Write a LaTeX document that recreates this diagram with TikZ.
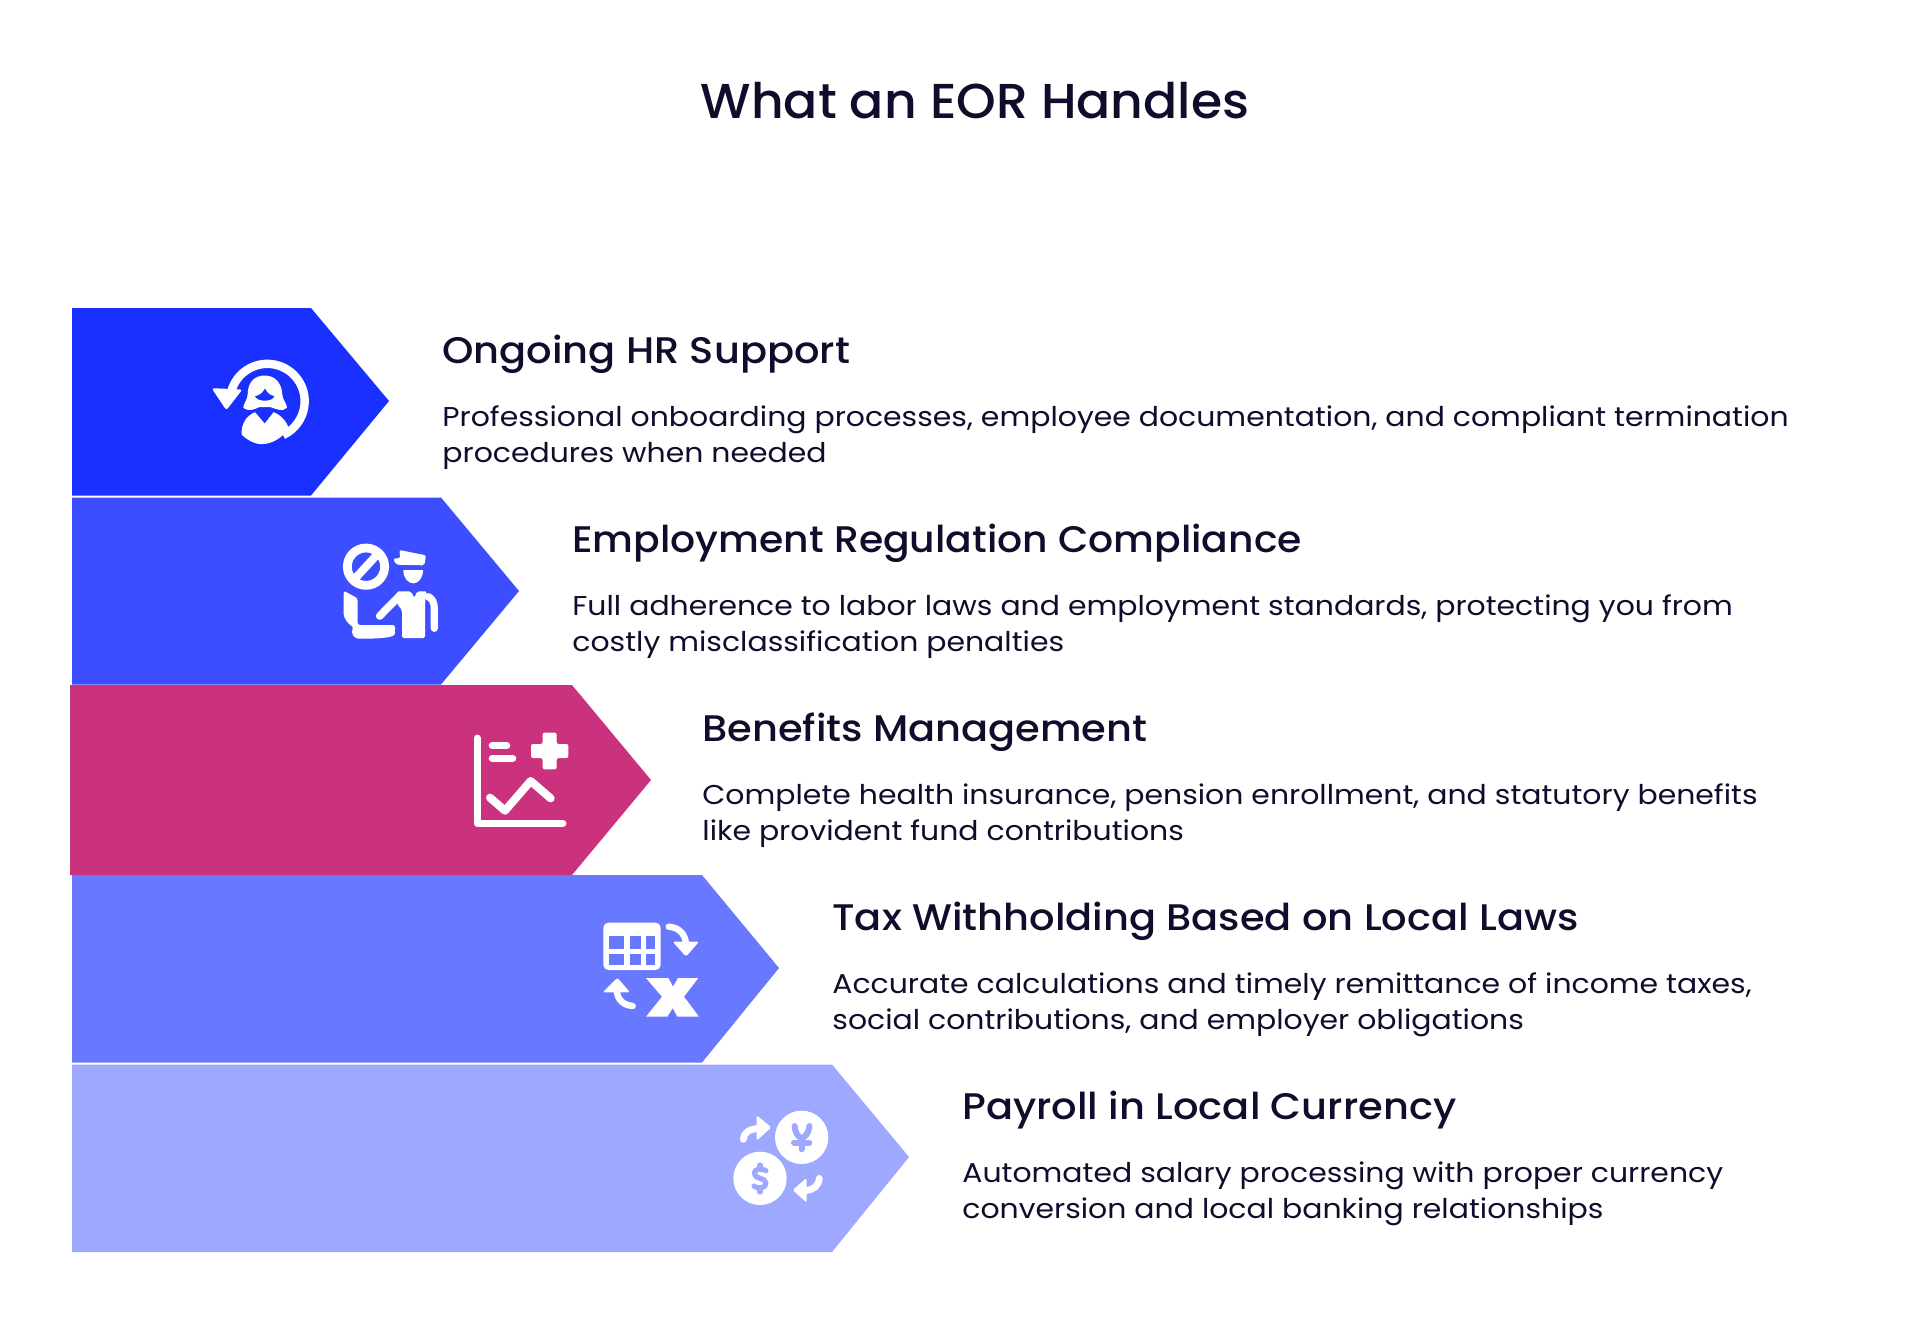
\documentclass[tikz,border=0pt]{standalone}
\usepackage{fontspec}
\setmainfont[FakeStretch=1.099]{Poppins}
\newfontfamily\hdfont[FakeStretch=1.08]{Poppins Medium}
\newfontfamily\hdfontnarrow[FakeStretch=1.062]{Poppins Medium}
\newfontfamily\ttlfont[FakeStretch=1.03]{Poppins Medium}
\definecolor{ink}{HTML}{0E0E2C}
\definecolor{cA}{HTML}{1A30FE}
\definecolor{cB}{HTML}{3C4EFF}
\definecolor{cC}{HTML}{CB327D}
\definecolor{cD}{HTML}{6878FF}
\definecolor{cE}{HTML}{9FA8FF}
\tikzset{
  titletext/.style={anchor=base,inner sep=0pt,text=ink,font=\ttlfont\fontsize{24.5}{28}\selectfont},
  headtext/.style={anchor=base west,inner sep=0pt,text=ink,font=\hdfont\fontsize{18.5}{22}\selectfont},
  headtextnarrow/.style={anchor=base west,inner sep=0pt,text=ink,font=\hdfontnarrow\fontsize{18.5}{22}\selectfont},
  bodytext/.style={anchor=base west,inner sep=0pt,text=ink,font=\fontsize{13.6}{16}\selectfont},
  zoomed/.style={x=0.5pt/3,y=-0.5pt/3,white,line cap=round,line join=round},
}
\begin{document}
\begin{tikzpicture}[x=0.5pt,y=-0.5pt]
\useasboundingbox (0,0) rectangle (1920,1324);
\fill[white] (0,0) rectangle (1920,1324);
\node[titletext] (title) at (975,118.5) {What an EOR Handles};
% arrows
\fill[cA] (72,308) -- (311,308) -- (389,401) -- (311,495.5) -- (72,495.5) -- cycle;
\fill[cB] (72,497.5) -- (441,497.5) -- (519,591) -- (441,684.5) -- (72,684.5) -- cycle;
\fill[cC] (70,685) -- (572,685) -- (651,780) -- (572,875) -- (70,875) -- cycle;
\fill[cD] (72,875) -- (702,875) -- (779,968) -- (702,1062.5) -- (72,1062.5) -- cycle;
\fill[cE] (72,1064.5) -- (832,1064.5) -- (909,1157) -- (832,1252) -- (72,1252) -- cycle;
% texts
\node[headtext] (h1) at (442,363.5) {Ongoing HR Support};
\node[bodytext] (b1a) at (442,426.5) {Professional onboarding processes, employee documentation, and compliant termination};
\node[bodytext] (b1b) at (442,462) {procedures when needed};
\node[headtextnarrow] (h2) at (572,552.5) {Employment Regulation Compliance};
\node[bodytext] (b2a) at (572,615.5) {Full adherence to labor laws and employment standards, protecting you from};
\node[bodytext] (b2b) at (572,651) {costly misclassification penalties};
\node[headtext] (h3) at (702,741.5) {Benefits Management};
\node[bodytext] (b3a) at (702,804.5) {Complete health insurance, pension enrollment, and statutory benefits};
\node[bodytext] (b3b) at (702,840) {like provident fund contributions};
\node[headtext] (h4) at (832,930.5) {Tax Withholding Based on Local Laws};
\node[bodytext] (b4a) at (832,993.5) {Accurate calculations and timely remittance of income taxes,};
\node[bodytext] (b4b) at (832,1029) {social contributions, and employer obligations};
\node[headtext] (h5) at (962,1119.5) {Payroll in Local Currency};
\node[bodytext] (b5a) at (962,1182.5) {Automated salary processing with proper currency};
\node[bodytext] (b5b) at (962,1218) {conversion and local banking relationships};
% icon 1
\begin{scope}[shift={(199,339.5)},zoomed]
\draw[line width=4.2pt,line cap=butt] plot[smooth,domain=196:425,samples=50] ({205+112*cos(\x)},{185+112*sin(\x)});
\fill[rounded corners=1.2pt] (38,146) -- (130,150) -- (82,212) -- cycle;
\fill (197,108) .. controls (165,108) and (146,130) .. (146,165) .. controls (146,180) and (133,192) .. (133,205) .. controls (150,218) and (170,208) .. (180,203) -- (215,203) .. controls (230,208) and (250,218) .. (264,205) .. controls (264,192) and (250,180) .. (250,165) .. controls (248,130) and (228,108) .. (197,108) -- cycle;
\fill[cA] (168,170) .. controls (180,168) and (190,162) .. (198,147) .. controls (205,162) and (215,168) .. (226,170) .. controls (220,188) and (175,188) .. (168,170) -- cycle;
\fill (168,218) -- (197,252) -- (224,218) .. controls (252,230) and (264,250) .. (270,268) .. controls (250,292) and (225,312) .. (190,314) .. controls (165,314) and (145,302) .. (128,285) .. controls (126,255) and (140,230) .. (168,218) -- cycle;
\end{scope}
% icon 2
\begin{scope}[shift={(331,530)},zoomed]
\draw[line width=4.4pt] (105,110) circle[radius=56/6*1pt];
\draw[line width=4pt,line cap=butt] (68,150) -- (142,70);
\fill[rounded corners=1pt] (187,86) -- (208,84) -- (205,60) -- (285,76) -- (280,106) -- (195,104) -- cycle;
\fill (217,120) -- (276,120) .. controls (276,145) and (262,160) .. (247,160) .. controls (232,160) and (217,145) .. (217,120) -- cycle;
\draw[line width=3.8pt] (146,258) -- (205,198);
\fill[rounded corners=1pt] (198,184) -- (240,184) -- (250,204) -- (258,184) -- (287,184) .. controls (285,200) and (282,215) .. (282,230) -- (282,324) -- (213,324) -- (213,240) -- (198,222) -- cycle;
\draw[line width=3.6pt] (292,200) .. controls (302,205) and (310,215) .. (310,235) -- (310,295);
\fill[rounded corners=1.2pt] (38,182) -- (80,205) -- (80,285) -- (192,285) -- (192,305) .. controls (190,322) and (150,326) .. (90,326) .. controls (70,326) and (58,310) .. (68,290) .. controls (55,285) and (38,265) .. (38,245) -- cycle;
\end{scope}
% icon 3
\begin{scope}[shift={(460,720)},zoomed]
\draw[line width=3.8pt] (52,55) -- (52,310) -- (308,310);
\draw[line width=3.6pt] (97,77) -- (140,77);
\draw[line width=3.6pt] (97,115) -- (158,115);
\draw[line width=4pt] (90,233) -- (135,272) -- (212,183) -- (272,235);
\fill[rounded corners=1pt] (248,38) -- (290,38) -- (290,72) -- (325,72) -- (325,114) -- (290,114) -- (290,148) -- (248,148) -- (248,114) -- (213,114) -- (213,72) -- (248,72) -- cycle;
\end{scope}
% icon 4
\begin{scope}[shift={(590,910)},zoomed]
\fill[rounded corners=2.5pt] (40,38) rectangle (212,180);
\foreach \xa/\xb in {58/103,120/152,168/195}{
  \fill[cD] (\xa,78) rectangle (\xb,116);
  \fill[cD] (\xa,132) rectangle (\xb,165);
}
\draw[line width=3.2pt] (236,50) .. controls (265,52) and (285,70) .. (288,100);
\fill[rounded corners=0.8pt] (248,95) -- (327,95) -- (288,140) -- cycle;
\draw[line width=3.2pt] (128,288) .. controls (100,285) and (82,270) .. (80,240);
\fill[rounded corners=0.8pt] (38,247) -- (120,247) -- (82,203) -- cycle;
\fill (168,204) -- (235,204) -- (249,230) -- (264,204) -- (325,204) -- (282,260) -- (327,320) -- (262,320) -- (248,294) -- (232,320) -- (168,320) -- (216,260) -- cycle;
\end{scope}
% icon 5
\begin{scope}[shift={(720,1100)},zoomed]
\fill (245,112) circle[radius=80/6*1pt];
\fill (120,235) circle[radius=80/6*1pt];
\draw[cE,line width=3pt] (224,78) .. controls (226,100) and (235,112) .. (245,114) .. controls (255,112) and (266,100) .. (268,78);
\draw[cE,line width=3pt] (222,128) -- (268,128);
\draw[cE,line width=3pt] (245,114) -- (245,148);
\draw[cE,line width=2.6pt] (138,212) .. controls (125,203) and (103,206) .. (103,220) .. controls (103,238) and (138,232) .. (138,250) .. controls (138,265) and (112,268) .. (102,258);
\draw[cE,line width=2.6pt] (120,195) -- (120,207);
\draw[cE,line width=2.6pt] (120,264) -- (120,276);
\draw[line width=3.4pt] (70,118) .. controls (72,98) and (85,88) .. (115,85);
\fill[rounded corners=0.8pt] (110,46) -- (154,82) -- (110,122) -- cycle;
\draw[line width=3.4pt] (298,235) .. controls (296,258) and (280,270) .. (255,272);
\fill[rounded corners=0.8pt] (260,234) -- (218,270) -- (260,308) -- cycle;
\end{scope}
\end{tikzpicture}
\end{document}
